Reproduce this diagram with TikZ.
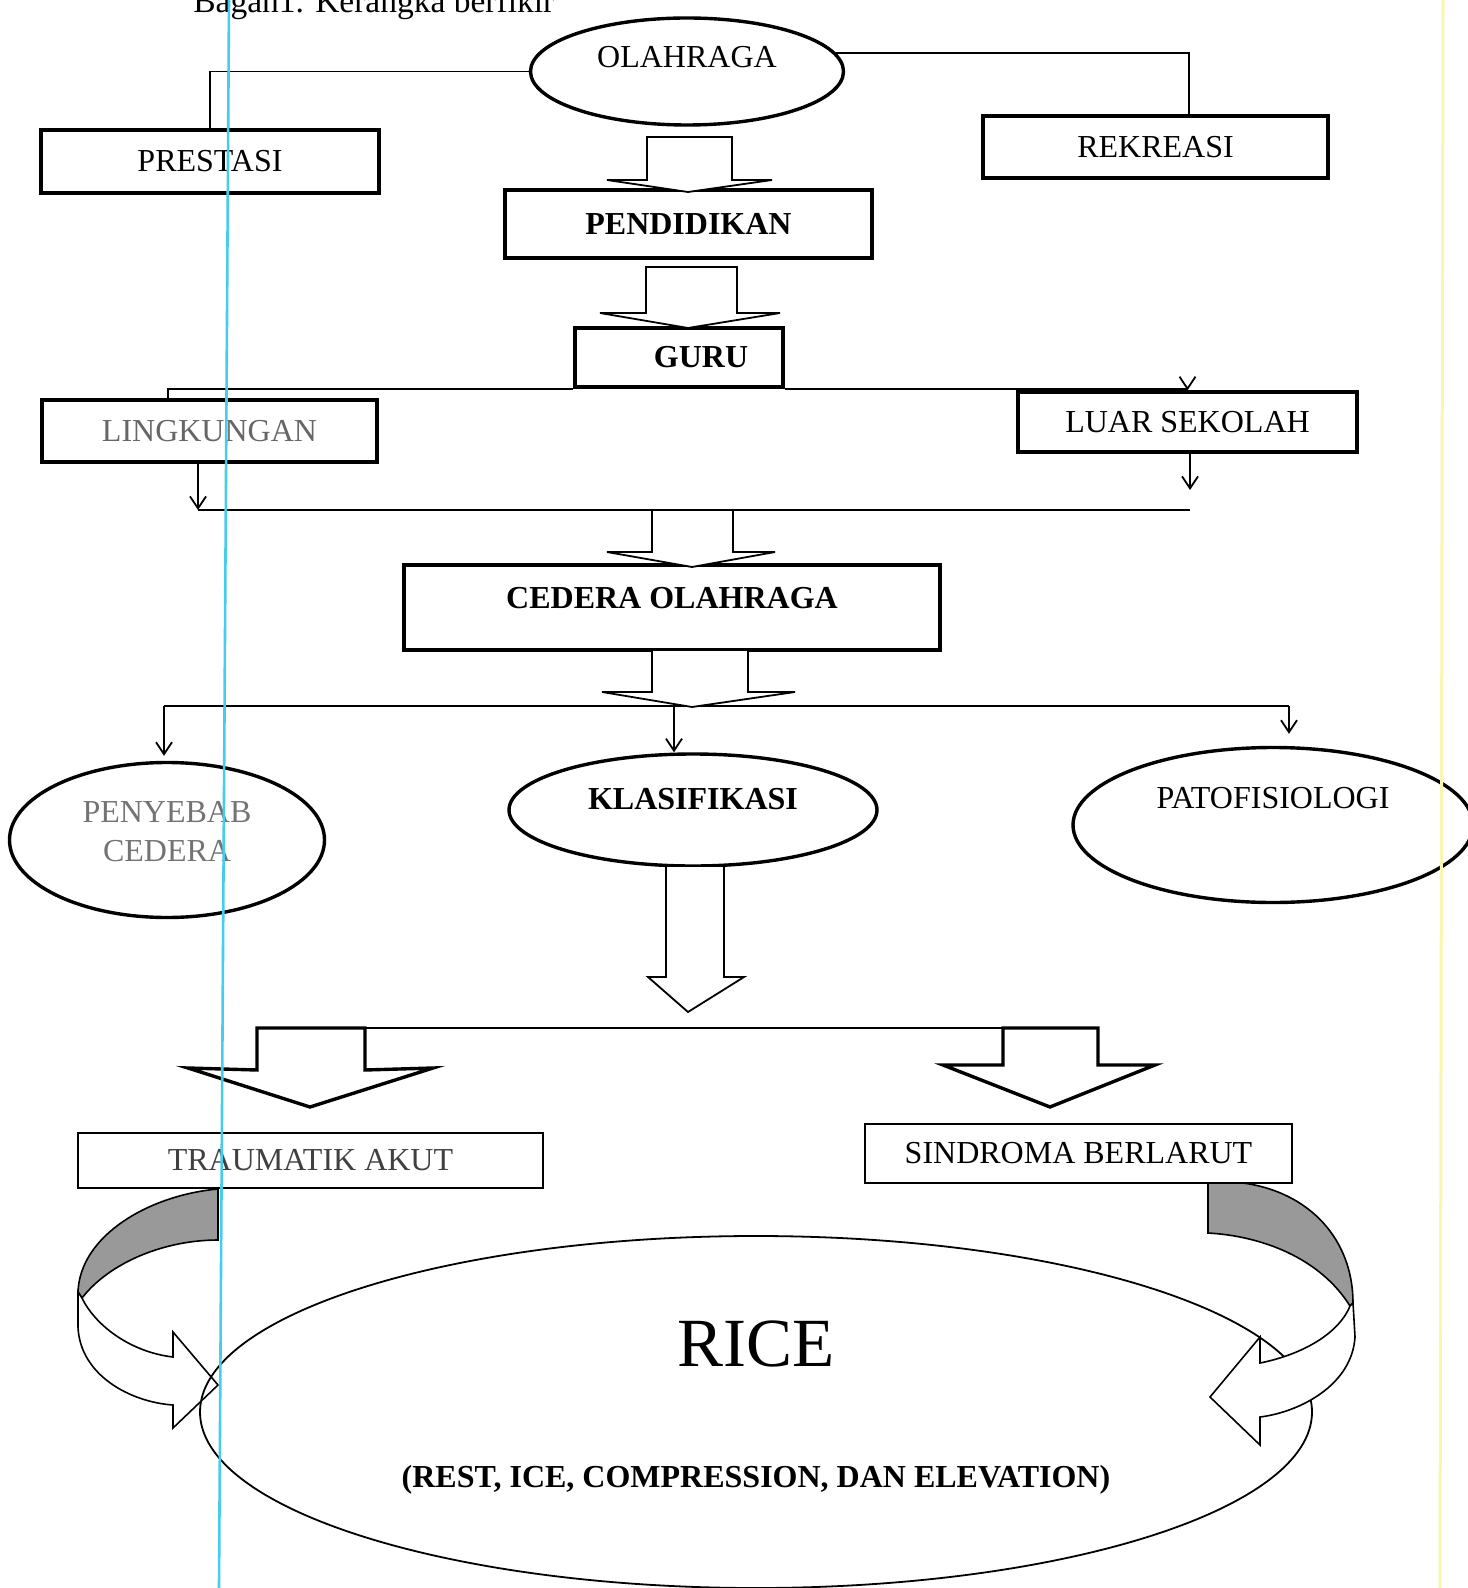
\documentclass[tikz,border=0pt]{standalone}
\usepackage{fontspec}
\setmainfont{Liberation Serif}
\usetikzlibrary{shapes.geometric,arrows.meta}
\definecolor{scanline}{RGB}{70,205,235}
\definecolor{edgeline}{RGB}{250,246,175}
\newcommand\txtfont{\fontsize{16}{19.5}\selectfont}
\newcommand\ricefont{\fontsize{34.5}{40}\selectfont}

\begin{document}
\begin{tikzpicture}[x=0.5pt, y=-0.5pt, font=\txtfont,
	rbox/.style={rectangle, draw, line width=1.7pt, inner sep=0pt},
	tbox/.style={rectangle, draw, line width=0.9pt, inner sep=0pt},
	ovalnode/.style={ellipse, draw, line width=1.7pt, inner sep=0pt},
	conn/.style={line width=0.9pt},
	thinarr/.style={line width=0.9pt, -{Straight Barb[length=6pt, width=8pt]}},
	blk/.style={draw, fill=white, line width=0.9pt, line join=miter},
	ribbon/.style={draw, fill=white, line width=0.8pt}]

	\useasboundingbox (0, 0) rectangle (1467, 1588);

	\node (cap) [anchor=base west, inner sep=0pt, font=\fontsize{16.75}{20}\selectfont] at (193, 13) {Bagan1. Kerangka berfikir};

	\node (olah) [ovalnode, minimum width=156.5pt, minimum height=53.5pt, label={[yshift=7pt]center:OLAHRAGA}] at (687, 71.5) {};
	\node (prest) [rbox, minimum width=169pt, minimum height=31.5pt] at (210, 161.5) {PRESTASI};
	\node (rekr) [rbox, minimum width=172.5pt, minimum height=31pt] at (1155.5, 147) {REKREASI};
	\node (pend) [rbox, minimum width=183.5pt, minimum height=34pt] at (688.5, 224) {\textbf{PENDIDIKAN}};
	\node (guru) [rbox, minimum width=104pt, minimum height=29.5pt, label={[xshift=11pt]center:\textbf{GURU}}] at (679, 357.5) {};
	\node (ling) [rbox, minimum width=167.5pt, minimum height=31pt, text=black!60] at (209.5, 431) {LINGKUNGAN};
	\node (luar) [rbox, minimum width=169.5pt, minimum height=30pt] at (1187.5, 422) {LUAR SEKOLAH};
	\node (ceder) [rbox, minimum width=268pt, minimum height=42.5pt, label={[yshift=4.75pt]center:\textbf{CEDERA OLAHRAGA}}] at (672, 607.5) {};

	\node (peny) [ovalnode, minimum width=157.5pt, minimum height=77.5pt, label={[yshift=4pt, align=center, text=black!55]center:PENYEBAB\\CEDERA}] at (167, 840) {};
	\node (klas) [ovalnode, minimum width=184pt, minimum height=56pt, label={[yshift=5.5pt]center:\textbf{KLASIFIKASI}}] at (693, 810) {};
	\node (pato) [ovalnode, minimum width=200pt, minimum height=77.5pt, label={[yshift=13.5pt]center:PATOFISIOLOGI}] at (1273, 825) {};

	\node (trau) [tbox, minimum width=232.5pt, minimum height=27.5pt, text=black!75] at (310.5, 1160.5) {TRAUMATIK AKUT};
	\node (sind) [tbox, minimum width=213.5pt, minimum height=29.5pt] at (1078.5, 1153.5) {SINDROMA BERLARUT};

	\draw[conn] (olah.west) -| (prest.north);
	\draw[conn] (olah.7) -| ([xshift=16.75pt]rekr.north);
	\draw[conn] (guru.south west) -| ([xshift=-20.75pt]ling.north);
	\draw[thinarr] (guru.south east) -| (luar.north);

	\coordinate (ml) at (198, 510);
	\coordinate (mr) at (1190, 510);
	\coordinate (ll) at (164, 706);
	\coordinate (lm) at (674, 706);
	\coordinate (lr) at (1289, 706);
	\coordinate (sl) at (365, 1028);
	\coordinate (sr) at (1003, 1028);

	\path
	(ling.south -| ml) edge[thinarr] (ml)
	(luar.south -| mr) edge[thinarr, shorten >=10pt] (mr)
	(ml) edge[conn] (mr)
	(ll) edge[conn] (lr)
	(ll) edge[thinarr, shorten >=2.5pt] (peny.north -| ll)
	(lm) edge[thinarr] (klas.north -| lm)
	(lr) edge[thinarr, shorten >=6pt] (pato.north -| lr)
	(sl) edge[conn] (sr);

	\draw[blk] (647, 137) -- (732, 137) -- (732, 180) -- (772, 180) -- (688, 192) -- (607, 180) -- (647, 180) -- cycle;
	\draw[blk] (646, 267) -- (737, 267) -- (737, 313) -- (780, 313) -- (688, 328) -- (600, 313) -- (646, 313) -- cycle;
	\draw[blk] (652, 510) -- (733, 510) -- (733, 552) -- (775, 552) -- (692, 567) -- (607, 552) -- (652, 552) -- cycle;
	\draw[blk] (652, 650) -- (748, 650) -- (748, 692) -- (795, 692) -- (692, 707) -- (602, 692) -- (652, 692) -- cycle;
	\draw[blk] (666, 866) -- (724, 866) -- (724, 977) -- (744, 977) -- (688, 1012) -- (648, 977) -- (666, 977) -- cycle;
	\draw[blk, line width=1.7pt] (257, 1028) -- (365, 1028) -- (365, 1070) -- (433, 1068) -- (310, 1107) -- (188, 1068) -- (257, 1070) -- cycle;
	\draw[blk, line width=1.7pt] (1003, 1028) -- (1098, 1028) -- (1098, 1065) -- (1155, 1065) -- (1050, 1107) -- (943, 1065) -- (1003, 1065) -- cycle;

	\draw[ribbon, fill=black!40] (218, 1189) .. controls (150, 1195) and (80, 1235) .. (78, 1292) -- (82, 1298) .. controls (110, 1262) and (165, 1240) .. (218, 1240) -- cycle;
	\draw[ribbon] (78, 1292) -- (78, 1327) .. controls (80, 1375) and (130, 1402) .. (173, 1405) -- (173, 1428) -- (218, 1385) -- (173, 1332) -- (173, 1357) .. controls (130, 1352) and (95, 1325) .. (82, 1298) -- cycle;

	\node (rice) [ellipse, draw, line width=0.9pt, inner sep=0pt, minimum width=556pt, minimum height=176pt,
		label={[yshift=34pt, font=\ricefont]center:RICE},
		label={[yshift=-34pt]center:\textbf{(REST, ICE, COMPRESSION, DAN ELEVATION)}}] at (756, 1412) {};

	\draw[ribbon, fill=black!40] (1208, 1183) -- (1243, 1183) .. controls (1310, 1192) and (1353, 1240) .. (1353, 1303) -- (1350, 1306) .. controls (1320, 1258) and (1262, 1236) .. (1208, 1233) -- cycle;
	\draw[ribbon] (1353, 1303) -- (1355, 1337) .. controls (1352, 1385) and (1300, 1412) .. (1260, 1417) -- (1260, 1445) -- (1210, 1397) -- (1260, 1337) -- (1260, 1363) .. controls (1300, 1355) and (1338, 1335) .. (1350, 1306) -- cycle;

	\draw[scanline, line width=1.3pt] (229, 0) -- (219, 1588);
	\draw[edgeline, line width=1.5pt] (1443, 0) -- (1440, 1588);

\end{tikzpicture}
\end{document}
